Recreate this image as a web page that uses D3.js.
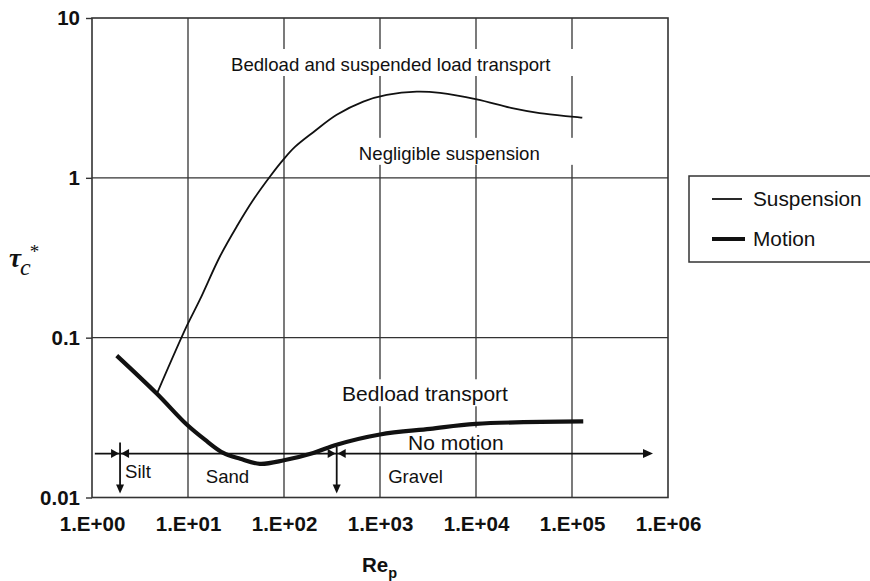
<!DOCTYPE html>
<html><head><meta charset="utf-8">
<script src="https://cdn.jsdelivr.net/npm/d3@7"></script>
<style>body{margin:0;background:#fff}svg{display:block}</style>
</head><body>
<svg id="c" width="870" height="581"></svg>
<script>
// ---- data ----
const xTicks = [1, 10, 100, 1000, 10000, 100000, 1000000];
const xTickLabels = ["1.E+00", "1.E+01", "1.E+02", "1.E+03", "1.E+04", "1.E+05", "1.E+06"];
const yTicks = [0.01, 0.1, 1, 10];
const yTickLabels = ["0.01", "0.1", "1", "10"];

const motionRe  = [1.81, 4.72, 9.7, 15, 23.3, 35, 56, 100, 202, 354, 1000, 3311, 9930, 131000];
const motionTau = [0.0772, 0.0447, 0.0286, 0.023, 0.019, 0.01745, 0.01625, 0.0171, 0.019, 0.0214, 0.0248, 0.0269, 0.0289, 0.0299];

const suspRe  = [4.75, 9.69, 13.3, 21.5, 32.2, 47.9, 71.5, 98.4, 130, 202, 354, 670, 1175, 2410, 4217, 10200, 24500, 46000, 128000];
const suspTau = [0.0447, 0.118, 0.173, 0.322, 0.496, 0.729, 1.02, 1.30, 1.56, 1.93, 2.48, 3.0, 3.30, 3.46, 3.40, 3.1, 2.72, 2.54, 2.38];

const seriesNames = ["Suspension", "Motion"];

// annotations: text, Re (centre), tau (baseline)
const annoText = ["Bedload and suspended load transport", "Negligible suspension", "Bedload transport", "No motion", "Silt", "Sand", "Gravel"];
const annoRe   = [1294, 5272, 2943, 6166, 3.01, 25.8, 2345];
const annoTau  = [4.66, 1.296, 0.0400, 0.01995, 0.01328, 0.01241, 0.01241];

// grain-size class boundaries (Re) and the "no motion" line
const boundaryRe = [1.96, 354];
const boundaryTopTau = [0.0221, 0.0208];
const boundaryBottomTau = 0.0106;
const noMotionLine = {re0: 1.07, re1: 698000, tau: 0.01884};

// ---- layout ----
const svg = d3.select("#c");
const x = d3.scaleLog().domain([1, 1e6]).range([92, 668]);
const y = d3.scaleLog().domain([0.01, 10]).range([497.5, 18]);
const font = "'Liberation Sans', Arial, Helvetica, sans-serif";
const gridColor = "#333";

// grid
const g = svg.append("g");
g.selectAll(".vg").data(xTicks.slice(1, -1)).join("line")
  .attr("x1", d => x(d)).attr("x2", d => x(d)).attr("y1", y(10)).attr("y2", y(0.01))
  .attr("stroke", gridColor).attr("stroke-width", 1.3);
g.selectAll(".hg").data(yTicks.slice(1, -1)).join("line")
  .attr("x1", x(1)).attr("x2", x(1e6)).attr("y1", d => y(d)).attr("y2", d => y(d))
  .attr("stroke", gridColor).attr("stroke-width", 1.3);

// axes
const yAxis = d3.axisLeft(y).tickValues(yTicks).tickSize(6).tickPadding(6)
  .tickFormat((d, i) => yTickLabels[i]);
const ya = svg.append("g").attr("transform", `translate(${x(1)},0)`).call(yAxis);
ya.select(".domain").remove();
ya.selectAll("line").attr("stroke", gridColor).attr("stroke-width", 1.4);
ya.selectAll("text").attr("font-family", font).attr("font-weight", "bold")
  .attr("font-size", 20.5).attr("fill", "#111");

const xAxis = d3.axisBottom(x).tickValues(xTicks).tickSize(0).tickPadding(19)
  .tickFormat((d, i) => xTickLabels[i]);
const xa = svg.append("g").attr("transform", `translate(0,${y(0.01)})`).call(xAxis);
xa.select(".domain").remove();
xa.selectAll("text").attr("font-family", font).attr("font-weight", "bold")
  .attr("font-size", 20.5).attr("fill", "#111");

// frame
svg.append("rect").attr("x", x(1)).attr("y", y(10))
  .attr("width", x(1e6) - x(1)).attr("height", y(0.01) - y(10))
  .attr("fill", "none").attr("stroke", gridColor).attr("stroke-width", 1.6);

// annotation boxes (white, hide gridlines) below curves, text above
const annoSize = [18.6, 18.6, 21, 21, 18.6, 18.6, 18.6];
const annoPadX = [35, 35, 4, 4, 2, 2, 2];
const boxG = svg.append("g");
const curveG = svg.append("g");
const annoG = svg.append("g");
const annoTexts = annoG.selectAll("text").data(annoText).join("text")
  .attr("x", (d, i) => x(annoRe[i])).attr("y", (d, i) => y(annoTau[i]))
  .attr("text-anchor", "middle").attr("font-family", font)
  .attr("font-size", (d, i) => annoSize[i]).attr("fill", "#111").text(d => d);
annoTexts.each(function(d, i) {
  const b = this.getBBox();
  const by = y(annoTau[i]);
  boxG.append("rect").attr("x", b.x - annoPadX[i]).attr("width", b.width + 2 * annoPadX[i])
    .attr("y", by - 22).attr("height", i === 3 ? 24 : 27).attr("fill", "#fff");
});

// curves
const line = d3.line().curve(d3.curveCatmullRom.alpha(0.5));
const susp = suspRe.map((r, i) => [x(r), y(suspTau[i])]);
const motion = motionRe.map((r, i) => [x(r), y(motionTau[i])]);
curveG.append("path").attr("d", line(susp)).attr("fill", "none").attr("stroke", "#111").attr("stroke-width", 1.8);
curveG.append("path").attr("d", line(motion)).attr("fill", "none").attr("stroke", "#111").attr("stroke-width", 4.2)
  .attr("stroke-linecap", "butt");

// arrows
const arr = svg.append("g").attr("fill", "#111");
const ly = y(noMotionLine.tau);
svg.append("line").attr("x1", x(noMotionLine.re0)).attr("x2", x(noMotionLine.re1) - 4)
  .attr("y1", ly).attr("y2", ly).attr("stroke", "#111").attr("stroke-width", 1.8);
const xe = x(noMotionLine.re1);
arr.append("path").attr("d", `M${xe},${ly} L${xe - 10},${ly - 4.5} L${xe - 10},${ly + 4.5} Z`);
boundaryRe.forEach((r, i) => {
  const bx = x(r);
  const yt = y(boundaryTopTau[i]), yb = y(boundaryBottomTau);
  svg.append("line").attr("x1", bx).attr("x2", bx).attr("y1", yt).attr("y2", yb - 6)
    .attr("stroke", "#111").attr("stroke-width", 1.8);
  arr.append("path").attr("d", `M${bx},${yb} L${bx - 4},${yb - 9} L${bx + 4},${yb - 9} Z`);
  arr.append("path").attr("d", `M${bx - 1},${ly} L${bx - 9},${ly - 4.5} L${bx - 9},${ly + 4.5} Z`);
  arr.append("path").attr("d", `M${bx + 1},${ly} L${bx + 9},${ly - 4.5} L${bx + 9},${ly + 4.5} Z`);
});

// legend
const lg = svg.append("g");
lg.append("rect").attr("x", 689).attr("y", 176).attr("width", 200).attr("height", 86)
  .attr("fill", "#fff").attr("stroke", gridColor).attr("stroke-width", 1.5);
const legW = [1.8, 4.2];
seriesNames.forEach((n, i) => {
  const ry = 199 + i * 40;
  lg.append("line").attr("x1", 712).attr("x2", i ? 745 : 742).attr("y1", ry).attr("y2", ry)
    .attr("stroke", "#111").attr("stroke-width", legW[i]);
  lg.append("text").attr("x", 753).attr("y", ry + 7).attr("font-family", font)
    .attr("font-size", 20.8).attr("fill", "#111").text(n);
});

// axis titles
const xt = svg.append("text").attr("x", 362).attr("y", 572).attr("font-family", font)
  .attr("font-weight", "bold").attr("font-size", 20.5).attr("fill", "#111");
xt.append("tspan").text("Re");
xt.append("tspan").attr("font-size", 14.5).attr("dy", 6).text("p");

const yt = svg.append("text").attr("x", 9).attr("y", 267).attr("fill", "#111")
  .attr("font-family", "'Liberation Serif', 'Times New Roman', serif");
yt.append("tspan").attr("font-weight", "bold").attr("font-style", "italic").attr("font-size", 27).text("τ");
yt.append("tspan").attr("font-style", "italic").attr("font-size", 24).attr("dy", 8).attr("dx", -1).text("c");
yt.append("tspan").attr("font-size", 19).attr("dy", -17).attr("dx", -1).text("*");
</script>
</body></html>
